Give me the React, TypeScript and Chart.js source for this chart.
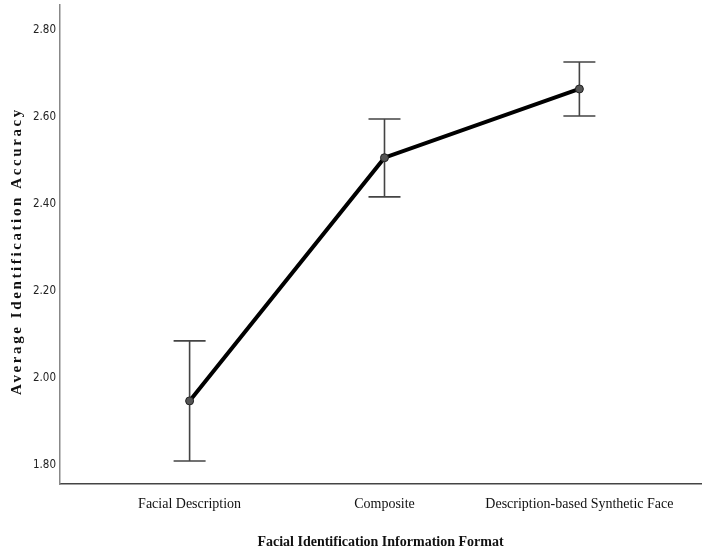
import React, { useEffect, useRef } from "react";
import { Chart, registerables } from "chart.js";

Chart.register(...registerables);

const categories = ["Facial Description", "Composite", "Description-based Synthetic Face"];
const means = [1.947, 2.506, 2.664];
const upperCI = [2.085, 2.595, 2.726];
const lowerCI = [1.809, 2.416, 2.602];
const yTicks = [1.8, 2.0, 2.2, 2.4, 2.6, 2.8];
const yTitle = "Average Identification Accuracy";

const errorBarPlugin = {
  id: "errorBars",
  beforeDatasetsDraw(chart: any) {
    const { ctx, scales } = chart;
    const xs = scales.x;
    const ys = scales.y;
    ctx.save();
    ctx.strokeStyle = "#444444";
    ctx.lineWidth = 1.6;
    for (let i = 0; i < means.length; i++) {
      const x = xs.getPixelForValue(i);
      const yt = ys.getPixelForValue(upperCI[i]);
      const yb = ys.getPixelForValue(lowerCI[i]);
      ctx.beginPath();
      ctx.moveTo(x, yt);
      ctx.lineTo(x, yb);
      ctx.moveTo(x - 16, yt);
      ctx.lineTo(x + 16, yt);
      ctx.moveTo(x - 16, yb);
      ctx.lineTo(x + 16, yb);
      ctx.stroke();
    }
    ctx.restore();
  },
};

const yTitlePlugin = {
  id: "yTitle",
  afterDraw(chart: any) {
    const { ctx } = chart;
    ctx.save();
    ctx.translate(17, 251);
    ctx.rotate(-Math.PI / 2);
    ctx.font = "bold 15px 'Liberation Serif', serif";
    try {
      (ctx as any).letterSpacing = "2.6px";
    } catch (e) {}
    ctx.fillStyle = "#111111";
    ctx.textAlign = "center";
    ctx.textBaseline = "middle";
    ctx.fillText(yTitle, 0, 0);
    ctx.restore();
  },
};

export default function App() {
  const ref = useRef<HTMLCanvasElement>(null);
  useEffect(() => {
    document.body.style.margin = "0";
    if (!ref.current) return;
    const chart = new Chart(ref.current, {
      type: "line",
      data: {
        datasets: [
          {
            data: means.map((v, i) => ({ x: i, y: v })),
            borderColor: "#000000",
            borderWidth: 4,
            pointRadius: 4,
            pointBackgroundColor: "#555555",
            pointBorderColor: "#222222",
            pointBorderWidth: 1,
            tension: 0,
          },
        ],
      },
      options: {
        animation: false,
        responsive: false,
        layout: { padding: { top: 5, right: 3, left: 0, bottom: 0 } },
        plugins: { legend: { display: false }, tooltip: { enabled: false } },
        scales: {
          x: {
            type: "linear",
            min: -0.665,
            max: 2.624,
            afterBuildTicks(scale: any) {
              scale.ticks = [0, 1, 2].map((v) => ({ value: v }));
            },
            afterFit(scale: any) {
              scale.height = 71;
              scale.paddingLeft = 0;
              scale.paddingRight = 0;
            },
            grid: { display: false, drawTicks: false },
            border: { display: true, color: "#444444", width: 1.5 },
            ticks: {
              callback: (v: any) => categories[v as number] ?? "",
              color: "#111111",
              font: { family: "'Liberation Serif', serif", size: 14 },
              padding: 12,
              maxRotation: 0,
              autoSkip: false,
            },
            title: {
              display: true,
              text: "Facial Identification Information Format",
              color: "#111111",
              font: { family: "'Liberation Serif', serif", size: 14, weight: "bold" },
              padding: { top: 18 },
            },
          },
          y: {
            type: "linear",
            min: 1.756,
            max: 2.857,
            afterBuildTicks(scale: any) {
              scale.ticks = yTicks.map((v) => ({ value: v }));
            },
            afterFit(scale: any) {
              scale.width = 60;
              scale.paddingTop = 0;
              scale.paddingBottom = 0;
            },
            grid: { display: false, drawTicks: false },
            border: { display: true, color: "#888888", width: 1.5 },
            ticks: {
              callback: (v: any) => Number(v).toFixed(2),
              color: "#222222",
              font: { family: "'DejaVu Sans Condensed', 'DejaVu Sans', sans-serif", size: 11.5 },
              padding: 4,
            },
            title: { display: false },
          },
        },
      },
      plugins: [errorBarPlugin, yTitlePlugin],
    });
    return () => chart.destroy();
  }, []);
  return <canvas ref={ref} width={706} height={555} style={{ display: "block" }} />;
}
